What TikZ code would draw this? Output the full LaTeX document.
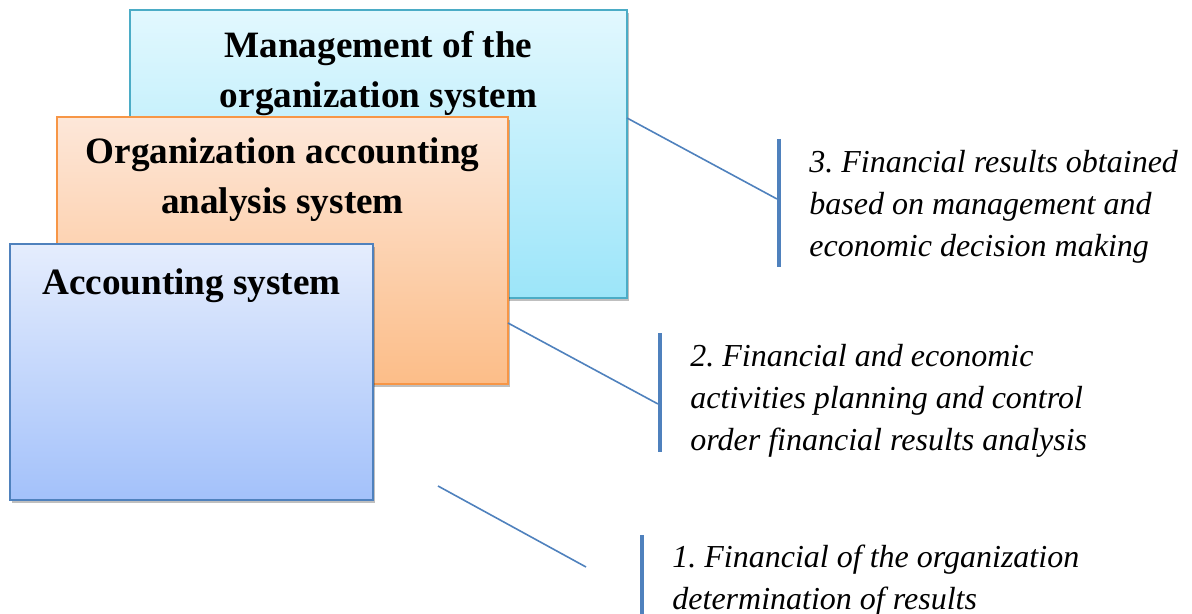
\documentclass[tikz,border=0pt]{standalone}
\usepackage{fontspec}
\setmainfont{Liberation Serif}
\usetikzlibrary{positioning,shadows}
\definecolor{clMgmt}{HTML}{4BACC6}
\definecolor{clMgmtTop}{HTML}{E2F8FE}
\definecolor{clMgmtBot}{HTML}{9CE5F9}
\definecolor{clOrg}{HTML}{F79646}
\definecolor{clOrgTop}{HTML}{FDE7D9}
\definecolor{clOrgBot}{HTML}{FCBD88}
\definecolor{clAcc}{HTML}{4F81BD}
\definecolor{clAccTop}{HTML}{E5EDFD}
\definecolor{clAccBot}{HTML}{A3C1FA}
\definecolor{clLink}{HTML}{4F81BD}
\tikzset{
  panel/.style={rectangle, line width=1pt, inner sep=0pt, outer sep=0pt, anchor=north west,
                drop shadow={shadow xshift=1pt, shadow yshift=-1.5pt, opacity=0.25, fill=black}},
  mgmtpanel/.style={panel, draw=clMgmt, top color=clMgmtTop, bottom color=clMgmtBot,
                    minimum width=248.5pt, minimum height=144pt},
  orgpanel/.style={panel, draw=clOrg, top color=clOrgTop, bottom color=clOrgBot,
                   minimum width=225.5pt, minimum height=133.5pt},
  accpanel/.style={panel, draw=clAcc, top color=clAccTop, bottom color=clAccBot,
                   minimum width=181.5pt, minimum height=128pt},
  % anchor=base sits on the last line of a multi-line node
  title/.style={font=\bfseries\fontsize{18.6}{25}\selectfont, align=center, inner sep=0pt, anchor=base},
  result/.style={font=\itshape\fontsize{16}{21}\selectfont, align=left, inner sep=0pt, anchor=base west},
  bar/.style={draw=clLink, line width=2pt},
  link/.style={draw=clLink, line width=0.8pt},
}
\begin{document}
\begin{tikzpicture}[x=0.5pt, y=-0.5pt]
  \useasboundingbox (0,0) rectangle (1192,614);
  % stacked system panels, back to front
  \node[mgmtpanel] (mgmt) at (130,10) {};
  \node[title] (mgmt-t) at ([yshift=-49pt]mgmt.north) {Management of the\\organization system};
  \node[orgpanel] (org) at (57,117) {};
  \node[title] (org-t) at ([yshift=-48.5pt]org.north) {Organization accounting\\analysis system};
  \node[accpanel] (acc) at (10,244) {};
  \node[title] (acc-t) at ([yshift=-25pt]acc.north) {Accounting system};

  % result blocks with a bar on the left
  \coordinate (bar3a) at (779,139); \coordinate (bar3b) at (779,267);
  \coordinate (bar2a) at (660,333); \coordinate (bar2b) at (660,452);
  \coordinate (bar1a) at (642,535); \coordinate (bar1b) at (642,620);
  \draw[bar] (bar3a) -- (bar3b);
  \draw[bar] (bar2a) -- (bar2b);
  \draw[bar] (bar1a) -- (bar1b);
  \node[result] (res3) at (809,257) {3.\ Financial results obtained\\based on management and\\economic decision making};
  \node[result] (res2) at (690,450) {2.\ Financial and economic\\activities planning and control\\order financial results analysis};
  \node[result] (res1) at (672,609) {1.\ Financial of the organization\\determination of results};

  % leader lines
  \coordinate (lnk3) at (777,199);
  \coordinate (lnk2) at (658,404);
  \coordinate (lnk1a) at (438,486);
  \coordinate (lnk1b) at (586,567);
  \draw[link] (mgmt.east |- 0,118) -- (lnk3);
  \draw[link] (org.east |- 0,323) -- (lnk2);
  \draw[link] (lnk1a) -- (lnk1b);
\end{tikzpicture}
\end{document}
